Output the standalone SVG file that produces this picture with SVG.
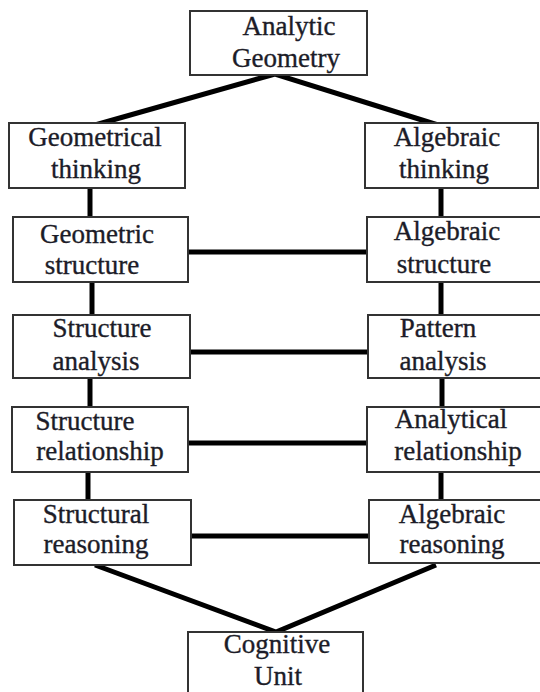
<svg xmlns="http://www.w3.org/2000/svg" width="540" height="692" viewBox="0 0 540 692">
<style>
.box{fill:#fff;stroke:#333;stroke-width:2}
.t{font-family:"Liberation Serif","Times New Roman",serif;font-size:27px;fill:#1c1c28;stroke:#1c1c28;stroke-width:0.35;text-anchor:middle}
.c{stroke:#000;stroke-width:5;fill:none;stroke-linecap:butt}
</style>
<rect width="540" height="692" fill="#fff"/>
<g id="connectors">
<path class="c" d="M95,125 L275,74 L438,125"/>
<line class="c" x1="90" y1="188" x2="90" y2="217"/>
<line class="c" x1="92" y1="282" x2="92" y2="315"/>
<line class="c" x1="90" y1="378" x2="90" y2="407"/>
<line class="c" x1="88" y1="472" x2="88" y2="500"/>
<line class="c" x1="441" y1="188" x2="441" y2="217"/>
<line class="c" x1="441" y1="282" x2="441" y2="315"/>
<line class="c" x1="442" y1="378" x2="442" y2="407"/>
<line class="c" x1="441" y1="472" x2="441" y2="500"/>
<line class="c" x1="188" y1="252" x2="367" y2="252"/>
<line class="c" x1="190" y1="352" x2="368" y2="352"/>
<line class="c" x1="188" y1="443" x2="367" y2="443"/>
<line class="c" x1="191" y1="536" x2="369" y2="536"/>
<path class="c" d="M95,565 L276,632 L436,565"/>
</g>
<g id="analytic-geometry">
<rect class="box" x="190" y="11" width="177" height="64"/>
<text class="t" x="289" y="35">Analytic</text>
<text class="t" x="286" y="67">Geometry</text>
</g>
<g id="geometrical-thinking">
<rect class="box" x="9" y="123" width="176" height="65"/>
<text class="t" x="95" y="146">Geometrical</text>
<text class="t" x="96" y="178">thinking</text>
</g>
<g id="algebraic-thinking">
<rect class="box" x="365" y="123" width="173" height="65"/>
<text class="t" x="447" y="146">Algebraic</text>
<text class="t" x="444" y="178">thinking</text>
</g>
<g id="geometric-structure">
<rect class="box" x="13" y="217" width="175" height="65"/>
<text class="t" x="97" y="243">Geometric</text>
<text class="t" x="92" y="274">structure</text>
</g>
<g id="algebraic-structure">
<rect class="box" x="367" y="217" width="180" height="65"/>
<text class="t" x="447" y="240">Algebraic</text>
<text class="t" x="444" y="273">structure</text>
</g>
<g id="structure-analysis">
<rect class="box" x="13" y="315" width="177" height="63"/>
<text class="t" x="102" y="337">Structure</text>
<text class="t" x="96" y="370">analysis</text>
</g>
<g id="pattern-analysis">
<rect class="box" x="368" y="315" width="180" height="63"/>
<text class="t" x="438" y="337">Pattern</text>
<text class="t" x="443" y="370">analysis</text>
</g>
<g id="structure-relationship">
<rect class="box" x="12" y="407" width="176" height="65"/>
<text class="t" x="85" y="430">Structure</text>
<text class="t" x="100" y="460">relationship</text>
</g>
<g id="analytical-relationship">
<rect class="box" x="367" y="407" width="180" height="65"/>
<text class="t" x="451" y="428">Analytical</text>
<text class="t" x="458" y="460">relationship</text>
</g>
<g id="structural-reasoning">
<rect class="box" x="14" y="500" width="177" height="65"/>
<text class="t" x="96" y="523">Structural</text>
<text class="t" x="96" y="553">reasoning</text>
</g>
<g id="algebraic-reasoning">
<rect class="box" x="369" y="500" width="180" height="63"/>
<text class="t" x="452" y="523">Algebraic</text>
<text class="t" x="452" y="553">reasoning</text>
</g>
<g id="cognitive-unit">
<rect class="box" x="188" y="632" width="175" height="70"/>
<text class="t" x="277" y="653">Cognitive</text>
<text class="t" x="278" y="685">Unit</text>
</g>
</svg>
